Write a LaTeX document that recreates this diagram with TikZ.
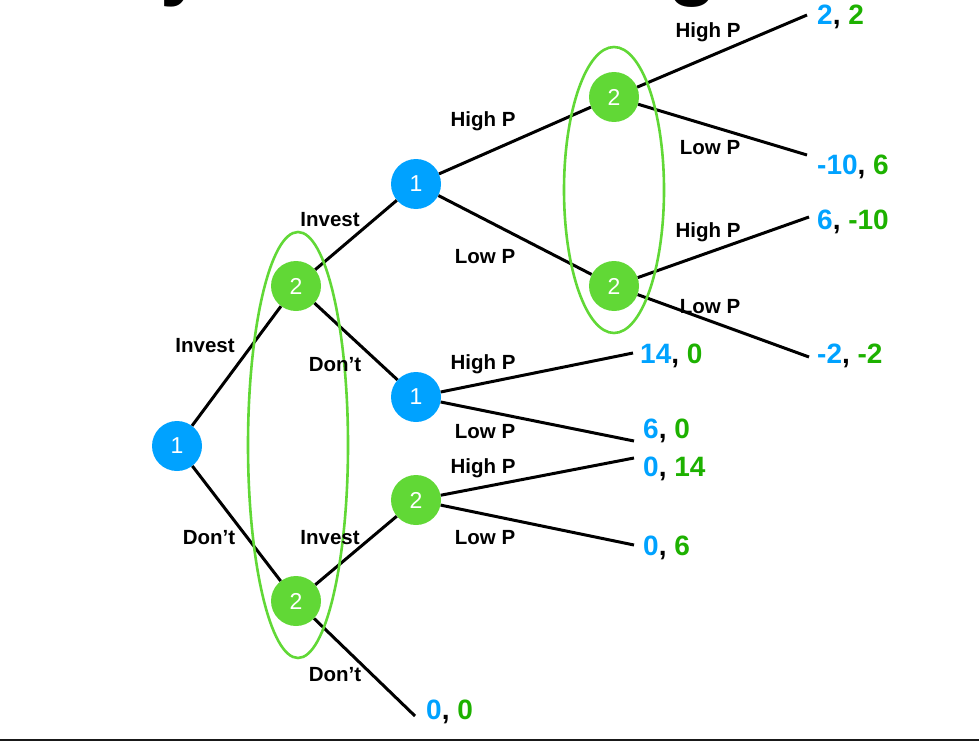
\documentclass[tikz,border=0pt]{standalone}
\usepackage{fontspec}
\setmainfont{Liberation Sans}
\definecolor{pblue}{HTML}{00A2FF}
\definecolor{pgreen}{HTML}{61D836}
\definecolor{dgreen}{HTML}{1DB100}
\begin{document}
\begin{tikzpicture}[x=1pt,y=-1pt,
  pone/.style={circle,fill=pblue,minimum size=50pt,inner sep=0pt,text=white,font=\fontsize{23}{23}\selectfont},
  ptwo/.style={pone,fill=pgreen},
  lbl/.style={font=\bfseries\fontsize{20.5}{20.5}\selectfont,inner sep=0pt},
  pay/.style={font=\bfseries\fontsize{28}{28}\selectfont,anchor=west,inner sep=0pt},
  edge/.style={line width=3pt,black},
  info/.style={draw=pgreen,line width=2.6pt}]
\useasboundingbox (0,0) rectangle (979,741);
% cut-off title fragments
\begin{scope}
\clip (0,0) rectangle (979,741);
\node[anchor=base west,font=\bfseries\fontsize{80}{80}\selectfont,inner sep=0pt] (t1) at (160,-9) {y};
\node[anchor=base west,font=\bfseries\fontsize{80}{80}\selectfont,inner sep=0pt] (t2) at (668,-9) {g};
\end{scope}
% decision nodes
\node[pone] (A) at (177,446) {1};
\node[ptwo] (B) at (296,286) {2};
\node[ptwo] (C) at (296,601) {2};
\node[pone] (D) at (416,184) {1};
\node[pone] (E) at (416,397) {1};
\node[ptwo] (F) at (416,500) {2};
\node[ptwo] (G) at (614,97) {2};
\node[ptwo] (H) at (614,286) {2};
% terminal ends
\coordinate (eG1) at (807,15);
\coordinate (eG2) at (807,155);
\coordinate (eH1) at (809,217);
\coordinate (eH2) at (809,357);
\coordinate (eE1) at (633,353);
\coordinate (eE2) at (634,441);
\coordinate (eF1) at (634,458);
\coordinate (eF2) at (634,545);
\coordinate (eC2) at (415,716);
% edges
\draw[edge] (A) -- (B);
\draw[edge] (A) -- (C);
\draw[edge] (B) -- (D);
\draw[edge] (B) -- (E);
\draw[edge] (C) -- (F);
\draw[edge] (C) -- (eC2);
\draw[edge] (D) -- (G);
\draw[edge] (D) -- (H);
\draw[edge] (E) -- (eE1);
\draw[edge] (E) -- (eE2);
\draw[edge] (F) -- (eF1);
\draw[edge] (F) -- (eF2);
\draw[edge] (G) -- (eG1);
\draw[edge] (G) -- (eG2);
\draw[edge] (H) -- (eH1);
\draw[edge] (H) -- (eH2);
% information sets
\draw[info] (614,190) ellipse [x radius=50pt, y radius=143pt];
\draw[info] (298,445) ellipse [x radius=50pt, y radius=213pt];
% edge labels
\node[lbl] (l1) at (708,32) {High P};
\node[lbl] (l2) at (710,148) {Low P};
\node[lbl] (l3) at (708,232) {High P};
\node[lbl] (l4) at (710,307) {Low P};
\node[lbl] (l5) at (483,121) {High P};
\node[lbl] (l6) at (485,257) {Low P};
\node[lbl] (l7) at (330,220) {Invest};
\node[lbl] (l8) at (205,346) {Invest};
\node[lbl] (l9) at (335,365) {Don’t};
\node[lbl] (l10) at (483,364) {High P};
\node[lbl] (l11) at (485,432) {Low P};
\node[lbl] (l12) at (483,468) {High P};
\node[lbl] (l13) at (209,538) {Don’t};
\node[lbl] (l14) at (330,538) {Invest};
\node[lbl] (l15) at (485,538) {Low P};
\node[lbl] (l16) at (335,675) {Don’t};
% payoffs
\node[pay] (q1) at (817,17) {\textcolor{pblue}{2}, \textcolor{dgreen}{2}};
\node[pay] (q2) at (817,167) {\textcolor{pblue}{-10}, \textcolor{dgreen}{6}};
\node[pay] (q3) at (817,222) {\textcolor{pblue}{6}, \textcolor{dgreen}{-10}};
\node[pay] (q4) at (817,356) {\textcolor{pblue}{-2}, \textcolor{dgreen}{-2}};
\node[pay] (q5) at (640,356) {\textcolor{pblue}{14}, \textcolor{dgreen}{0}};
\node[pay] (q6) at (643,431) {\textcolor{pblue}{6}, \textcolor{dgreen}{0}};
\node[pay] (q7) at (643,469) {\textcolor{pblue}{0}, \textcolor{dgreen}{14}};
\node[pay] (q8) at (643,548) {\textcolor{pblue}{0}, \textcolor{dgreen}{6}};
\node[pay] (q9) at (426,712) {\textcolor{pblue}{0}, \textcolor{dgreen}{0}};
% bottom rule
\fill[black!90] (0,739) rectangle (979,741);
\end{tikzpicture}
\end{document}
